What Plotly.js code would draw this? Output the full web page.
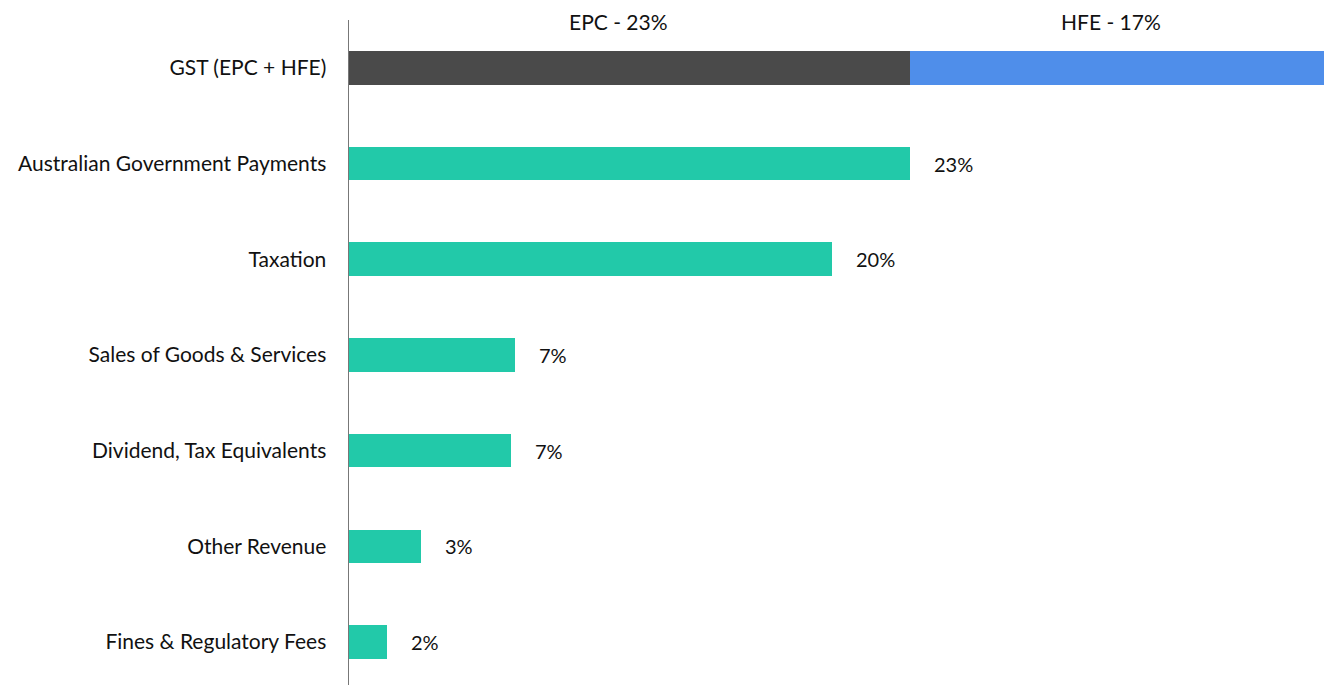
<!DOCTYPE html>
<html>
<head>
<meta charset="utf-8">
<script src="https://cdn.plot.ly/plotly-3.0.1.min.js"></script>
<style>html,body{margin:0;padding:0;background:#fff;}#chart{width:1324px;height:685px;}</style>
</head>
<body>
<div id="chart"></div>
<script>
const categories = ["GST (EPC + HFE)", "Australian Government Payments", "Taxation", "Sales of Goods & Services", "Dividend, Tax Equivalents", "Other Revenue", "Fines & Regulatory Fees"];
const gstEPC = 23;
const gstHFE = 17;
const gstLabels = ["EPC - 23%", "HFE - 17%"];
const otherCats = categories.slice(1);
const otherValues = [23, 19.8, 6.8, 6.65, 2.95, 1.56];
const otherLabels = ["23%", "20%", "7%", "7%", "3%", "2%"];

const FONT = "Lato, 'Open Sans', sans-serif";
const traces = [
  {type:"bar", orientation:"h", y:[categories[0]], x:[gstEPC], marker:{color:"#4a4a4a"}, width:0.35, hoverinfo:"none"},
  {type:"bar", orientation:"h", y:[categories[0]], x:[gstHFE], marker:{color:"#4f8eea"}, width:0.35, hoverinfo:"none"},
  {type:"bar", orientation:"h", y:otherCats, x:otherValues, marker:{color:"#22c9a9"}, width:0.35, hoverinfo:"none"}
];
const annotations = otherCats.map((c,i)=>({x:otherValues[i], y:c, xref:"x", yref:"y", text:otherLabels[i], showarrow:false, xanchor:"left", xshift:22, font:{family:FONT, size:20, color:"#111"}}));
annotations.push({x:gstEPC/2, y:categories[0], xref:"x", yref:"y", text:gstLabels[0], showarrow:false, xanchor:"center", yshift:46, xshift:-11, font:{family:FONT, size:21, color:"#111"}});
annotations.push({x:gstEPC+gstHFE/2, y:categories[0], xref:"x", yref:"y", text:gstLabels[1], showarrow:false, xanchor:"center", yshift:46, xshift:-6, font:{family:FONT, size:21, color:"#111"}});

const layout = {
  width:1324, height:685,
  margin:{l:349, r:0, t:20, b:0},
  paper_bgcolor:"#fff", plot_bgcolor:"#fff",
  barmode:"stack", showlegend:false,
  xaxis:{range:[0, gstEPC+gstHFE], showgrid:false, zeroline:false, showticklabels:false, showline:false, fixedrange:true},
  yaxis:{type:"category", categoryorder:"array", categoryarray:categories, range:[6.45, -0.5], showgrid:false, zeroline:false, showline:true, linecolor:"#777", linewidth:1.5, ticks:"", ticklabelstandoff:17, tickfont:{family:FONT, size:21, color:"#111"}, fixedrange:true},
  annotations:annotations,
  font:{family:FONT}
};
Plotly.newPlot("chart", traces, layout, {displayModeBar:false, staticPlot:true});
</script>
</body>
</html>
